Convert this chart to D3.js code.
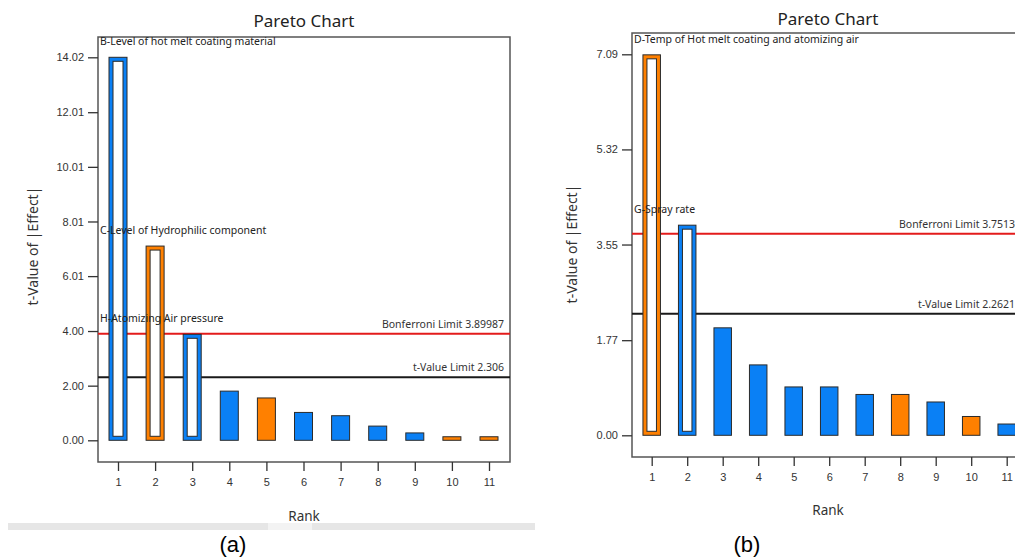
<!DOCTYPE html>
<html>
<head>
<meta charset="utf-8">
<script src="https://cdn.jsdelivr.net/npm/d3@7"></script>
<style>
  body { margin: 0; background: #fff; }
  svg { display: block; font-family: "Noto Sans", "Open Sans", sans-serif; }
</style>
</head>
<body>
<svg id="chart" width="1015" height="559"></svg>
<script>
// ---- data ----
const ranks = [1, 2, 3, 4, 5, 6, 7, 8, 9, 10, 11]

// (a)
const valuesA = [14.02, 7.11, 3.88, 1.80, 1.55, 1.02, 0.90, 0.52, 0.27, 0.13, 0.13]
const signA = ["+", "-", "+", "+", "-", "+", "+", "+", "+", "-", "-"]
const termsA = ["B-Level of hot melt coating material", "C-Level of Hydrophilic component", "H-Atomizing Air pressure"]
const tickLabelsA = ["0.00", "2.00", "4.00", "6.01", "8.01", "10.01", "12.01", "14.02"]
const bonferroniA = 3.89987
const tLimitA = 2.306

// (b)
const valuesB = [7.08, 3.91, 2.00, 1.31, 0.90, 0.90, 0.76, 0.76, 0.62, 0.35, 0.21]
const signB = ["-", "+", "+", "+", "+", "+", "+", "-", "+", "-", "+"]
const termsB = ["D-Temp of Hot melt coating and atomizing air", "G-Spray rate"]
const tickLabelsB = ["0.00", "1.77", "3.55", "5.32", "7.09"]
const bonferroniB = "3.7513"
const tLimitB = "2.2621"

const BLUE = "#0a80f5", ORANGE = "#ff8000", EDGE = "#2b2b2b"

var svg = d3.select("#chart")

function pareto(opt) {

	var g = svg.append("g")

	var x = d3.scaleLinear().domain([1, 11]).range(opt.xr)
	var y = d3.scaleLinear().domain([0, +opt.ticks[opt.ticks.length - 1]]).range(opt.yr)

	// frame
	g.append("rect")
		.attr("x", opt.frame[0]).attr("y", opt.frame[1])
		.attr("width", opt.frame[2] - opt.frame[0]).attr("height", opt.frame[3] - opt.frame[1])
		.attr("fill", "none").attr("stroke", "#555").attr("stroke-width", 1.5)

	// y axis
	var yAxis = d3.axisLeft(y)
		.tickValues(opt.ticks.map(Number))
		.tickFormat((d, i) => opt.ticks[i])
		.tickSize(10).tickPadding(4)

	var ya = g.append("g").attr("transform", `translate(${opt.frame[0]},0)`).call(yAxis)
	ya.select(".domain").remove()
	ya.selectAll("line").attr("stroke", "#333").attr("stroke-width", 1.3)
	ya.selectAll("text").attr("font-size", 11).attr("fill", "#333").attr("font-family", null)

	// x axis
	var xAxis = d3.axisBottom(x).tickValues(ranks).tickSize(9).tickPadding(7)
	var xa = g.append("g").attr("transform", `translate(0,${opt.frame[3]})`).call(xAxis)
	xa.select(".domain").remove()
	xa.selectAll("line").attr("stroke", "#333").attr("stroke-width", 1.3)
	xa.selectAll("text").attr("font-size", 11).attr("fill", "#333").attr("font-family", null)

	// limit lines
	var lines = [
		{ v: +opt.bonf, c: "#e31b1b", label: "Bonferroni Limit " + opt.bonf },
		{ v: +opt.tlim, c: "#1a1a1a", label: "t-Value Limit " + opt.tlim }
	]
	lines.forEach(l => {
		g.append("line")
			.attr("x1", opt.frame[0]).attr("x2", opt.frame[2])
			.attr("y1", y(l.v)).attr("y2", y(l.v))
			.attr("stroke", l.c).attr("stroke-width", 2)
		g.append("text")
			.attr("x", opt.labelX).attr("y", y(l.v) - 6)
			.attr("text-anchor", "end").attr("font-size", 10.5).attr("fill", "#333")
			.text(l.label)
	})

	// bars
	var bw = opt.bw
	opt.values.forEach((v, i) => {
		var col = opt.sign[i] == "+" ? BLUE : ORANGE
		var bx = x(ranks[i]) - bw / 2
		g.append("rect")
			.attr("x", bx).attr("y", y(v))
			.attr("width", bw).attr("height", y(0) - y(v))
			.attr("fill", col).attr("stroke", EDGE).attr("stroke-width", 1)
		if (i < opt.terms.length) {
			g.append("rect")
				.attr("x", bx + 4).attr("y", y(v) + 4)
				.attr("width", bw - 8).attr("height", y(0) - y(v) - 8)
				.attr("fill", "#fff").attr("stroke", EDGE).attr("stroke-width", 1)
		}
	})

	// term annotations
	opt.terms.forEach((t, i) => {
		g.append("text")
			.attr("x", opt.frame[0] + 2).attr("y", y(opt.values[i]) - 12)
			.attr("font-size", 10.5).attr("fill", "#222")
			.text(t)
	})

	// titles
	var cx = opt.titleX
	g.append("text").attr("x", cx).attr("y", opt.titleY)
		.attr("text-anchor", "middle").attr("font-size", 17).attr("fill", "#222")
		.text("Pareto Chart")

	g.append("text").attr("x", cx).attr("y", opt.rankY)
		.attr("text-anchor", "middle").attr("font-size", 13.5).attr("fill", "#333")
		.text("Rank")

	g.append("text")
		.attr("transform", `translate(${opt.ytX},${opt.ytY}) rotate(-90)`)
		.attr("text-anchor", "middle").attr("font-size", 14).attr("fill", "#333")
		.text("t-Value of |Effect|")

	svg.append("text").attr("x", opt.capX).attr("y", 552)
		.attr("text-anchor", "middle").attr("font-size", 22)
		.attr("font-family", "Liberation Sans, Arial, sans-serif").attr("fill", "#000")
		.text(opt.caption)
}

// grey strip under panel (a)
svg.append("rect").attr("x", 8).attr("y", 523).attr("width", 527).attr("height", 7).attr("fill", "#e6e6e6")
svg.append("rect").attr("x", 268).attr("y", 523).attr("width", 44).attr("height", 7).attr("fill", "#f3f3f3")

pareto({
	values: valuesA, sign: signA, terms: termsA, ticks: tickLabelsA,
	bonf: bonferroniA, tlim: tLimitA,
	frame: [98, 37, 510, 462], xr: [118, 489], yr: [440.3, 57.3], bw: 18,
	labelX: 504, titleX: 304, titleY: 27, rankY: 521, ytX: 38, ytY: 246,
	capX: 233, caption: "(a)"
})

pareto({
	values: valuesB, sign: signB, terms: termsB, ticks: tickLabelsB,
	bonf: bonferroniB, tlim: tLimitB,
	frame: [632, 33, 1030, 457], xr: [651.7, 1006.7], yr: [435.3, 54.3], bw: 17.5,
	labelX: 1015, titleX: 828, titleY: 25, rankY: 515, ytX: 577, ytY: 244,
	capX: 747, caption: "(b)"
})
</script>
</body>
</html>
